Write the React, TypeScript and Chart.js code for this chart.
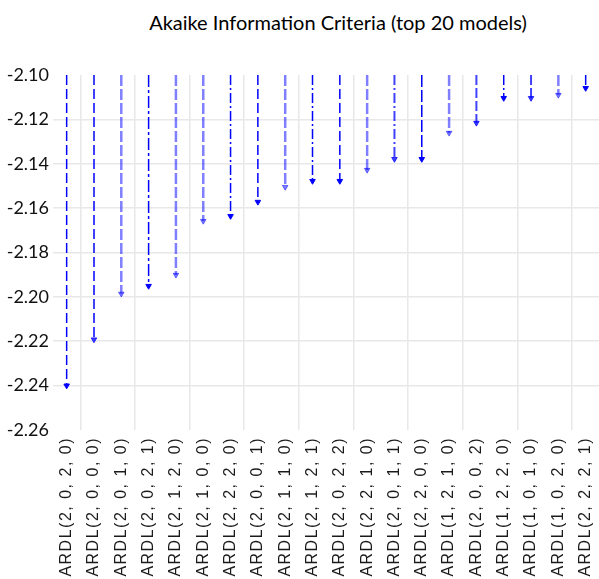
import React, { useEffect, useRef } from "react";
import { Chart, registerables, CategoryScale } from "chart.js";

Chart.register(...registerables);

class SpacedCategoryScale extends CategoryScale {
  static id = "spacedCategory";
  static defaults = (CategoryScale as any).defaults;
  drawLabels(chartArea: any) {
    const ctx: any = (this as any).ctx;
    ctx.save();
    ctx.letterSpacing = "1.5px";
    super.drawLabels(chartArea);
    ctx.restore();
  }
}
Chart.register(SpacedCategoryScale as any);

const TITLE = "Akaike Information Criteria (top 20 models)";

const models = [
  "ARDL(2, 0, 2, 0)",
  "ARDL(2, 0, 0, 0)",
  "ARDL(2, 0, 1, 0)",
  "ARDL(2, 0, 2, 1)",
  "ARDL(2, 1, 2, 0)",
  "ARDL(2, 1, 0, 0)",
  "ARDL(2, 2, 2, 0)",
  "ARDL(2, 0, 0, 1)",
  "ARDL(2, 1, 1, 0)",
  "ARDL(2, 1, 2, 1)",
  "ARDL(2, 0, 2, 2)",
  "ARDL(2, 2, 1, 0)",
  "ARDL(2, 0, 1, 1)",
  "ARDL(2, 2, 0, 0)",
  "ARDL(1, 2, 1, 0)",
  "ARDL(2, 0, 0, 2)",
  "ARDL(1, 2, 2, 0)",
  "ARDL(1, 0, 1, 0)",
  "ARDL(1, 0, 2, 0)",
  "ARDL(2, 2, 2, 1)",
];

const aicValues = [
  -2.24, -2.2192, -2.1986, -2.1951, -2.1901, -2.1658, -2.1636, -2.1572, -2.1505,
  -2.1478, -2.1478, -2.1428, -2.1379, -2.1379, -2.1261, -2.1216, -2.1104,
  -2.1104, -2.109, -2.1059,
];

const axisTop = -2.1;
const axisBottom = -2.26;
const axisStep = 0.02;

const DARK = "rgba(0,0,255,1)";
const MID = "rgba(0,0,255,0.75)";
const LIGHT = "rgba(0,0,255,0.5)";
const lineColors = [
  DARK, MID, LIGHT, DARK, LIGHT, LIGHT, DARK, DARK, LIGHT, DARK,
  DARK, LIGHT, MID, DARK, LIGHT, MID, DARK, MID, LIGHT, DARK,
];
const lineWidths = lineColors.map((c) => (c === DARK ? 1.5 : c === MID ? 2 : 2.5));
const lineDashes = [
  [10, 4], [10, 4], [11, 3], [12, 3, 3, 3], [11, 3], [11, 3], [10, 3, 2, 3], [10, 4],
  [11, 3], [10, 3, 2, 3], [10, 4], [11, 3], [10, 3, 2, 3], [12, 3], [11, 3], [10, 3],
  [10, 3, 2, 3], [10, 3], [11, 3], [10, 3],
];

export default function App() {
  const canvasRef = useRef<HTMLCanvasElement | null>(null);

  useEffect(() => {
    const canvas = canvasRef.current;
    if (!canvas) return;

    const datasets = models.map((m, i) => ({
      label: m,
      data: [
        { x: m, y: axisTop },
        { x: m, y: aicValues[i] },
      ],
      borderColor: lineColors[i],
      backgroundColor: lineColors[i],
      borderWidth: lineWidths[i],
      borderDash: lineDashes[i],
      pointRadius: [0, 3.2],
      pointStyle: "triangle",
      rotation: 180,
      pointBorderWidth: 1,
      showLine: true,
      fill: false,
    }));

    const chart = new Chart(canvas, {
      type: "line",
      data: { labels: models, datasets: datasets as any },
      options: {
        animation: false,
        responsive: false,
        maintainAspectRatio: false,
        layout: { padding: { top: 75, right: 4, left: 0, bottom: 0 } },
        plugins: {
          legend: { display: false },
          title: { display: false },
          tooltip: { enabled: false },
        },
        scales: {
          x: {
            type: "spacedCategory" as any,
            offset: true,
            border: { display: false },
            grid: {
              offset: true,
              drawTicks: false,
              lineWidth: 1.5,
              color: (ctx: any) => (ctx.index % 2 === 1 ? "#e8e8e8" : "rgba(0,0,0,0)"),
            },
            ticks: {
              minRotation: 90,
              maxRotation: 90,
              autoSkip: false,
              padding: 7,
              color: "#1a1a1a",
              font: { family: "'Liberation Sans', Arial, sans-serif", size: 16 },
            },
            afterFit: (scale: any) => {
              scale.height = 149;
            },
          },
          y: {
            min: axisBottom,
            max: axisTop,
            border: { display: false },
            grid: {
              drawTicks: false,
              lineWidth: 1.5,
              color: (ctx: any) => {
                const v = ctx.tick ? ctx.tick.value : 0;
                if (Math.abs(v - axisTop) < 1e-6 || Math.abs(v - axisBottom) < 1e-6) return "rgba(0,0,0,0)";
                return "#e8e8e8";
              },
            },
            ticks: {
              stepSize: axisStep,
              padding: 4,
              color: "#111",
              font: { family: "Lato, 'Open Sans', sans-serif", size: 18 },
              callback: (v: any) => Number(v).toFixed(2),
            },
            afterFit: (scale: any) => {
              scale.width = 53;
            },
          },
        },
      },
    });

    return () => chart.destroy();
  }, []);

  return (
    <div
      style={{
        position: "absolute",
        left: 0,
        top: 0,
        width: 599,
        height: 579,
        overflow: "hidden",
        background: "#fff",
      }}
    >
      <div
        style={{
          position: "absolute",
          top: 8,
          left: 138,
          width: 400,
          textAlign: "center",
          fontFamily: "Lato, 'Open Sans', sans-serif",
          fontSize: 20,
          lineHeight: "28px",
          color: "#000",
          whiteSpace: "nowrap",
        }}
      >
        {TITLE}
      </div>
      <canvas
        ref={canvasRef}
        width={612}
        height={579}
        style={{ position: "absolute", left: 0, top: 0, width: 612, height: 579 }}
      />
    </div>
  );
}
